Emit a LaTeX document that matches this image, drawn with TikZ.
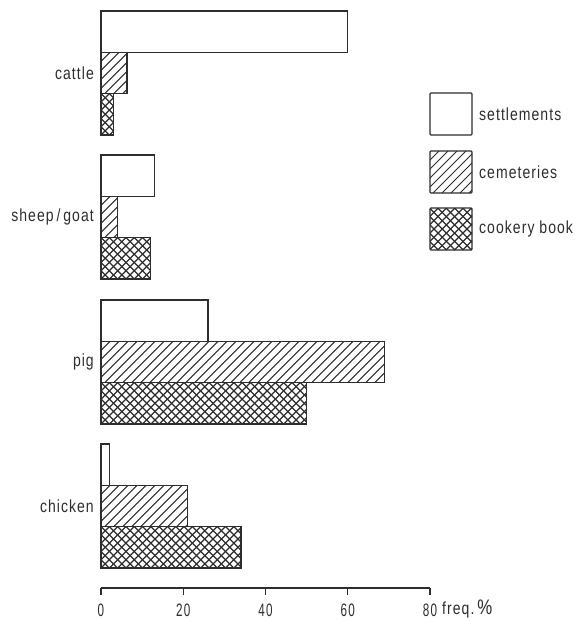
\documentclass[tikz,border=0pt]{standalone}
\usepackage{fontspec}
\setmainfont{Liberation Sans}[FakeStretch=0.8,LetterSpace=6]
\definecolor{ink}{RGB}{45,45,45}
\tikzset{
  barline/.style={draw=ink,line width=1.4pt},
  hatchline/.style={draw=ink,line width=1.0pt},
  crossline/.style={draw=ink,line width=1.25pt},
  lbl/.style={text=ink,font=\fontsize{17.5}{19}\selectfont,inner sep=0pt},
  ticklbl/.style={text=ink,font=\fontsize{18}{19}\selectfont\addfontfeature{FakeStretch=0.65},inner sep=0pt}
}
% #1 x0, #2 y0 (top), #3 x1, #4 y1 (bottom)
\newcommand\myhatch[4]{%
  \begin{scope}
  \clip (#1,#2) rectangle (#3,#4);
  \pgfmathsetmacro\hh{#4-#2}%
  \pgfmathtruncatemacro\nn{ceil((#3-#1+\hh)/9)}%
  \foreach \k in {0,...,\nn}{
    \draw[hatchline] ({#1-\hh+\k*9},#4) -- ++(\hh,-\hh);
  }
  \end{scope}}
\newcommand\mycross[4]{%
  \begin{scope}
  \clip (#1,#2) rectangle (#3,#4);
  \pgfmathsetmacro\hh{#4-#2}%
  \pgfmathtruncatemacro\nn{ceil((#3-#1+\hh)/8.3)}%
  \foreach \k in {0,...,\nn}{
    \draw[crossline] ({#1-\hh+\k*8.3},#4) -- ++(\hh,-\hh);
    \draw[crossline] ({#1-\hh+\k*8.3},#2) -- ++(\hh,\hh);
  }
  \end{scope}}
\begin{document}
\begin{tikzpicture}[x=1pt,y=-1pt]
\useasboundingbox (0,0) rectangle (578,621);
\def\u{4.1125}
% bars
\foreach \t/\a/\b/\c/\name in {11/60/6.3/3/{cattle}, 155/13/4/12/{sheep\,/\,goat}, 300/26/69/50/{pig}, 444/2/21/34/{chicken}}{
  \draw[barline,fill=white] (101,\t) rectangle ({101+\a*\u},{\t+41.3});
  \pgfmathsetmacro\xb{101+\b*\u}
  \pgfmathsetmacro\xc{101+\c*\u}
  \pgfmathsetmacro\ya{\t+41.3}
  \pgfmathsetmacro\yb{\t+82.6}
  \pgfmathsetmacro\yc{\t+124}
  \myhatch{101}{\ya}{\xb}{\yb}
  \draw[barline] (101,\ya) rectangle (\xb,\yb);
  \mycross{101}{\yb}{\xc}{\yc}
  \draw[barline] (101,\yb) rectangle (\xc,\yc);
  \node[lbl,anchor=east] at (94,{\t+62}) {\name};
}
% axis
\coordinate (a0) at (101,588);
\coordinate (a80) at (430,588);
\draw[ink,line width=1.2pt] (a0) -- (a80);
\foreach \v in {0,20,40,60,80}{
  \draw[ink,line width=1.2pt] ({101+\v*\u},588) -- ({101+\v*\u},595);
  \node[ticklbl] (t\v) at ({101+\v*\u},610) {\v};
}
\node[lbl,anchor=west] (freq) at (442,609) {freq.\,{\fontsize{21}{21}\selectfont\%}};
% legend
\draw[barline,rounded corners=1pt] (430,93) rectangle (472,135);
\myhatch{430}{151}{472}{193}
\draw[barline,rounded corners=1pt] (430,151) rectangle (472,193);
\mycross{430}{208}{472}{250}
\draw[barline,rounded corners=1pt] (430,208) rectangle (472,250);
\node[lbl,anchor=west] (l1) at (479,114) {settlements};
\node[lbl,anchor=west] (l2) at (479,172) {cemeteries};
\node[lbl,anchor=west] (l3) at (479,229) {cookery book};
\end{tikzpicture}
\end{document}
